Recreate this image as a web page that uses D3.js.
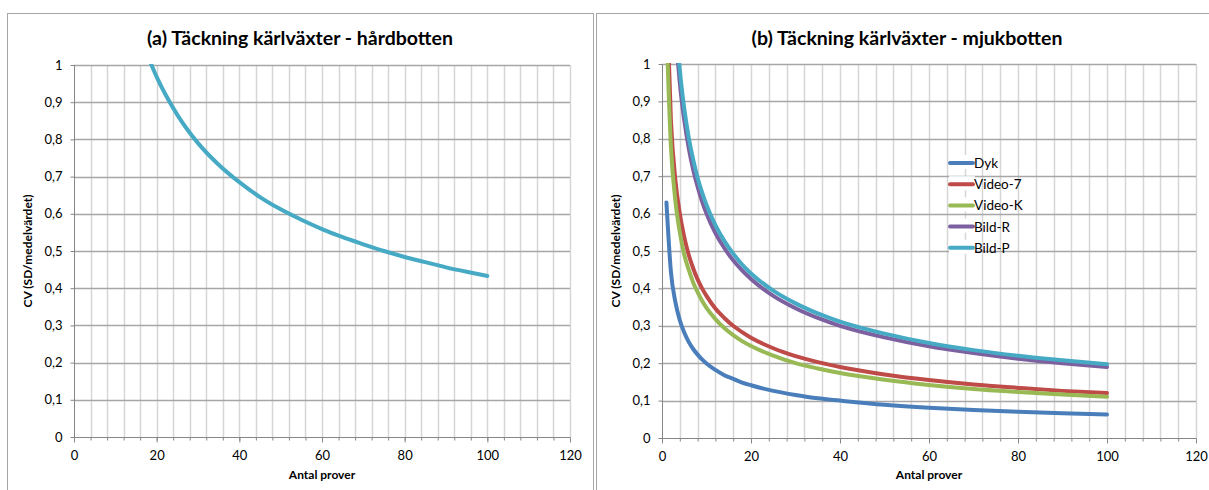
<!DOCTYPE html>
<html>
<head>
<meta charset="utf-8">
<script src="https://cdn.jsdelivr.net/npm/d3@7"></script>
<style>
  body { margin: 0; background: #fff; }
  svg { font-family: Lato, "Noto Sans", sans-serif; }
</style>
</head>
<body>
<div id="chart"></div>
<script>
// values
var nA = [18, 20, 25, 30, 35, 40, 45, 50, 55, 60, 65, 70, 75, 80, 85, 90, 95, 100];
var cvA = [1.02, 0.968, 0.866, 0.79, 0.732, 0.685, 0.645, 0.612, 0.584, 0.559, 0.537, 0.518, 0.5, 0.484, 0.47, 0.456, 0.444, 0.433];

var nB = [1, 2, 3, 4, 5, 6, 7, 8, 9, 10, 12, 14, 16, 18, 20, 25, 30, 35, 40, 50, 60, 70, 80, 90, 100];
var dyk = [0.63, 0.445, 0.364, 0.315, 0.282, 0.257, 0.238, 0.223, 0.21, 0.199, 0.182, 0.168, 0.158, 0.148, 0.141, 0.126, 0.115, 0.106, 0.1, 0.089, 0.081, 0.075, 0.07, 0.066, 0.063];
var video7 = [1.2, 0.85, 0.69, 0.6, 0.537, 0.49, 0.454, 0.424, 0.4, 0.38, 0.346, 0.321, 0.3, 0.283, 0.268, 0.24, 0.219, 0.203, 0.19, 0.17, 0.155, 0.143, 0.134, 0.126, 0.12];
var videoK = [1.1, 0.78, 0.635, 0.55, 0.49, 0.45, 0.416, 0.39, 0.367, 0.348, 0.318, 0.294, 0.275, 0.259, 0.246, 0.22, 0.2, 0.186, 0.174, 0.156, 0.142, 0.131, 0.123, 0.116, 0.11];
var bildR = [1.9, 1.34, 1.1, 0.95, 0.85, 0.776, 0.718, 0.672, 0.633, 0.6, 0.548, 0.508, 0.475, 0.448, 0.425, 0.38, 0.347, 0.321, 0.3, 0.269, 0.245, 0.227, 0.212, 0.2, 0.19];
var bildP = [1.97, 1.39, 1.14, 0.985, 0.881, 0.804, 0.745, 0.696, 0.657, 0.623, 0.569, 0.527, 0.493, 0.464, 0.44, 0.394, 0.36, 0.333, 0.311, 0.279, 0.254, 0.235, 0.22, 0.208, 0.197];

var seriesNames = ["Dyk", "Video-7", "Video-K", "Bild-R", "Bild-P"];
var seriesB = [dyk, video7, videoK, bildR, bildP];
var colors = ["#4a7ebb", "#be4b48", "#98b954", "#7d60a0", "#46aac5"];

var xTicks = [0, 20, 40, 60, 80, 100, 120];
var yTicks = [0, 0.1, 0.2, 0.3, 0.4, 0.5, 0.6, 0.7, 0.8, 0.9, 1];

var svg = d3.select("#chart").append("svg")
	.attr("width", 1209)
	.attr("height", 490);

var fmt = function(d) { return String(d).replace(".", ","); };

function panel(opt) {
	var g = svg.append("g");

	g.append("rect")
		.attr("x", opt.box[0] + 0.5).attr("y", opt.box[1] + 0.5)
		.attr("width", opt.box[2]).attr("height", opt.box[3])
		.attr("fill", "#fff").attr("stroke", "#a6a6a6");

	var x = d3.scaleLinear().domain([0, 120]).range([opt.left, opt.right]),
		y = d3.scaleLinear().domain([0, 1]).range([opt.bottom, opt.top]);

	// vertical grid (every 4 units)
	g.append("g").selectAll("line")
		.data(d3.range(4, 121, 4))
		.enter().append("line")
		.attr("x1", function(d) { return Math.round(x(d)) + 0.5; })
		.attr("x2", function(d) { return Math.round(x(d)) + 0.5; })
		.attr("y1", opt.top).attr("y2", opt.bottom)
		.attr("stroke", "#d6d6d6").attr("stroke-width", 1.5);

	// horizontal grid
	g.append("g").selectAll("line")
		.data(yTicks.slice(1))
		.enter().append("line")
		.attr("x1", opt.left).attr("x2", opt.right)
		.attr("y1", function(d) { return Math.round(y(d)) + 0.5; })
		.attr("y2", function(d) { return Math.round(y(d)) + 0.5; })
		.attr("stroke", "#a6a6a6").attr("stroke-width", 1.5);

	// x axis
	var xAxis = g.append("g")
		.attr("transform", "translate(0," + (Math.round(opt.bottom) + 0.5) + ")");
	xAxis.append("g")
		.call(d3.axisBottom(x).tickValues(d3.range(0, 121, 4)).tickSize(3).tickFormat(""))
		.call(function(s) { s.select(".domain").remove(); s.selectAll("line").attr("stroke", "#868686"); });
	xAxis.append("g")
		.call(d3.axisBottom(x).tickValues(xTicks).tickSize(5).tickPadding(8).tickFormat(fmt))
		.call(function(s) {
			s.select(".domain").attr("stroke", "#868686").attr("d", "M" + opt.left + ",0H" + opt.right);
			s.selectAll("line").attr("stroke", "#868686");
			s.selectAll("text").attr("font-size", 13).attr("fill", "#000")
				.attr("font-family", "Lato, 'Noto Sans', sans-serif");
		});

	// y axis
	g.append("g")
		.attr("transform", "translate(" + (Math.round(opt.left) + 0.5) + ",0)")
		.call(d3.axisLeft(y).tickValues(yTicks).tickSize(4).tickPadding(8).tickFormat(fmt))
		.call(function(s) {
			s.select(".domain").attr("stroke", "#868686").attr("d", "M0," + opt.top + "V" + opt.bottom);
			s.selectAll("line").attr("stroke", "#868686");
			s.selectAll("text").attr("font-size", 13).attr("fill", "#000")
				.attr("font-family", "Lato, 'Noto Sans', sans-serif");
		});

	// titles
	g.append("text")
		.attr("x", (opt.left + opt.right) / 2 - 22).attr("y", 45)
		.attr("text-anchor", "middle").attr("font-size", 19.5).attr("font-weight", "bold")
		.text(opt.title);
	g.append("text")
		.attr("x", (opt.left + opt.right) / 2).attr("y", 479)
		.attr("text-anchor", "middle").attr("font-size", 12).attr("font-weight", "bold")
		.text("Antal prover");
	g.append("text")
		.attr("transform", "translate(" + (opt.left - 42) + "," + (opt.top + opt.bottom) / 2 + ") rotate(-90)")
		.attr("text-anchor", "middle").attr("font-size", 12).attr("font-weight", "bold")
		.text("CV (SD/medelvärdet)");

	// clip
	var clipId = "clip" + opt.id;
	svg.append("clipPath").attr("id", clipId)
		.append("rect")
		.attr("x", opt.left).attr("y", opt.top - 1)
		.attr("width", opt.right - opt.left).attr("height", opt.bottom - opt.top + 3);

	var line = d3.line()
		.x(function(d) { return x(d[0]); })
		.y(function(d) { return y(d[1]); })
		.curve(d3.curveMonotoneX);

	var lines = g.append("g").attr("clip-path", "url(#" + clipId + ")");
	opt.series.forEach(function(s) {
		lines.append("path")
			.datum(d3.zip(s.n, s.values))
			.attr("d", line)
			.attr("fill", "none")
			.attr("stroke", s.color)
			.attr("stroke-width", 4)
			.attr("stroke-linejoin", "round")
			.attr("stroke-linecap", "round");
	});

	return { x: x, y: y, g: g };
}

panel({
	id: "a",
	box: [7, 13, 586, 490],
	left: 74, right: 570, top: 65, bottom: 437,
	title: "(a) Täckning kärlväxter - hårdbotten",
	series: [{ n: nA, values: cvA, color: colors[4] }]
});

var pb = panel({
	id: "b",
	box: [596, 13, 620, 490],
	left: 662, right: 1196, top: 64, bottom: 438,
	title: "(b) Täckning kärlväxter - mjukbotten",
	series: seriesNames.map(function(name, i) {
		return { n: nB, values: seriesB[i], color: colors[i] };
	})
});

// legend
var legend = pb.g.append("g")
	.attr("transform", "translate(949,163)");
var item = legend.selectAll("g")
	.data(seriesNames)
	.enter().append("g")
	.attr("transform", function(d, i) { return "translate(0," + i * 21.2 + ")"; });
item.append("rect")
	.attr("x", 0).attr("y", -8).attr("width", 26).attr("height", 14).attr("fill", "#fff");
item.append("line")
	.attr("x1", 1).attr("x2", 24).attr("y1", 0).attr("y2", 0)
	.attr("stroke", function(d, i) { return colors[i]; })
	.attr("stroke-width", 4).attr("stroke-linecap", "round");
item.append("text")
	.attr("x", 25).attr("y", 5)
	.attr("font-size", 13.5)
	.text(function(d) { return d; });
</script>
</body>
</html>
